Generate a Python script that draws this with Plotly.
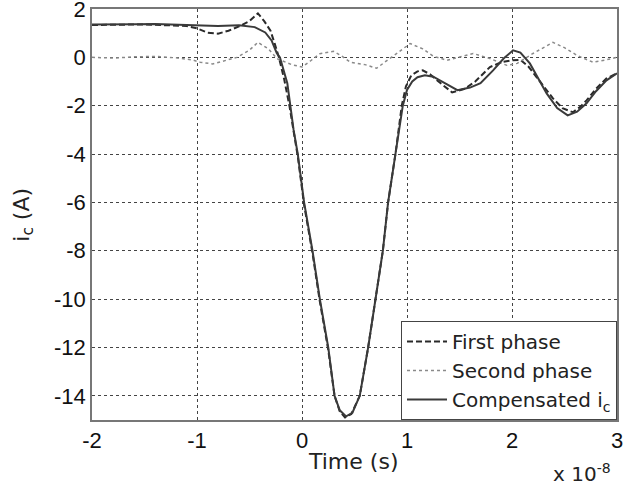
import plotly.graph_objects as go

# time in units of 1e-8 s
t_first = [-2.0, -1.5, -1.1, -1.0, -0.9, -0.8, -0.7, -0.6, -0.5, -0.42, -0.36, -0.3, -0.26, -0.22, -0.17, -0.12,
           -0.04, 0.02, 0.1, 0.17, 0.25, 0.31, 0.36, 0.41, 0.47, 0.55, 0.63, 0.70, 0.77, 0.82, 0.89, 0.95, 0.99,
           1.04, 1.1, 1.15, 1.22, 1.3, 1.43, 1.55, 1.65, 1.79, 1.9, 2.0, 2.08, 2.16, 2.24, 2.32, 2.39, 2.48, 2.58,
           2.65, 2.71, 2.8, 2.9, 3.0]
i_first = [1.34, 1.36, 1.3, 1.2, 1.02, 0.98, 1.1, 1.28, 1.5, 1.82, 1.5, 1.1, 0.57, 0.0, -0.9, -2.0,
           -4.1, -6.1, -8.1, -10.1, -12.1, -14.0, -14.65, -14.9, -14.75, -14.0, -12.0, -10.0, -8.0, -6.0, -4.0, -2.0, -1.2,
           -0.75, -0.58, -0.54, -0.7, -1.0, -1.45, -1.3, -1.0, -0.4, -0.2, -0.12, -0.1, -0.4, -0.83, -1.3, -1.7, -2.1, -2.27,
           -2.05, -1.78, -1.3, -0.87, -0.66]

t_second = [-2.0, -1.8, -1.6, -1.4, -1.2, -1.05, -0.97, -0.85, -0.72, -0.62, -0.5, -0.42, -0.32, -0.24, -0.1, 0.0,
            0.08, 0.17, 0.3, 0.38, 0.46, 0.6, 0.71, 0.85, 1.03, 1.15, 1.25, 1.38, 1.5, 1.63, 1.79, 1.95, 2.05, 2.2,
            2.39, 2.5, 2.62, 2.77, 2.9, 3.0]
i_second = [0.0, -0.03, 0.02, 0.04, -0.02, -0.1, -0.2, -0.27, -0.12, 0.0, 0.3, 0.62, 0.35, -0.05, -0.3, -0.4,
            -0.15, 0.15, 0.25, 0.05, -0.2, -0.3, -0.45, 0.0, 0.57, 0.35, 0.05, -0.12, 0.0, 0.16, -0.05, -0.33, -0.25, 0.16,
            0.62, 0.4, 0.08, -0.2, -0.1, 0.0]

t_comp = [-2.0, -1.8, -1.6, -1.4, -1.2, -1.0, -0.8, -0.6, -0.45, -0.35, -0.29, -0.24, -0.21, -0.14, -0.11, -0.08,
          -0.04, 0.02, 0.1, 0.17, 0.25, 0.31, 0.36, 0.42, 0.48, 0.55, 0.63, 0.70, 0.77, 0.82, 0.89, 0.96, 1.0,
          1.05, 1.1, 1.17, 1.25, 1.35, 1.48, 1.6, 1.7, 1.82, 1.92, 2.01, 2.08, 2.17, 2.25, 2.33, 2.43, 2.53, 2.62,
          2.71, 2.8, 2.9, 3.0]
i_comp = [1.36, 1.38, 1.37, 1.38, 1.36, 1.33, 1.3, 1.33, 1.25, 1.03, 0.7, 0.17, 0.0, -1.07, -2.0, -3.0,
          -4.0, -6.0, -8.0, -10.0, -12.0, -14.0, -14.6, -14.85, -14.7, -14.0, -12.0, -10.0, -8.0, -6.0, -4.0, -2.0, -1.35,
          -1.0, -0.82, -0.74, -0.8, -1.05, -1.36, -1.25, -1.07, -0.54, -0.05, 0.29, 0.2, -0.25, -0.85, -1.49, -2.1, -2.4, -2.25,
          -1.9, -1.4, -0.95, -0.66]

x_ticks = [-2, -1, 0, 1, 2, 3]
y_ticks = [-14, -12, -10, -8, -6, -4, -2, 0, 2]

fig = go.Figure()
fig.add_trace(go.Scatter(x=t_first, y=i_first, mode="lines", name="First phase",
                         line=dict(color="#2a2a2a", width=2, dash="6px,3px")))
fig.add_trace(go.Scatter(x=t_second, y=i_second, mode="lines", name="Second phase",
                         line=dict(color="#8a8a8a", width=1.5, dash="dot")))
fig.add_trace(go.Scatter(x=t_comp, y=i_comp, mode="lines", name="Compensated i<sub>c</sub>",
                         line=dict(color="#3a3a3a", width=2)))

tickfont = dict(family="Liberation Sans, Arial, sans-serif", size=22, color="#111")
titlefont = dict(family="DejaVu Sans, sans-serif", size=22, color="#222")
common = dict(showgrid=True, gridcolor="#444", gridwidth=1, griddash="3px,3px",
              showline=True, linecolor="#777", linewidth=1.5, mirror=True,
              zeroline=False, ticks="", tickfont=tickfont, automargin=False,
              ticklabeloverflow="allow")
fig.update_layout(
    width=623, height=489,
    margin=dict(l=92, r=6, t=9, b=69),
    plot_bgcolor="white", paper_bgcolor="white",
    showlegend=True,
    legend=dict(x=1, y=0, xanchor="right", yanchor="bottom",
                bgcolor="white", bordercolor="#444", borderwidth=1,
                font=dict(family="DejaVu Sans, sans-serif", size=20, color="#222"),
                tracegroupgap=0, itemwidth=40),
    xaxis=dict(range=[-2, 3], tickvals=x_ticks, ticktext=[str(v) for v in x_ticks], **common),
    yaxis=dict(range=[-15, 2], tickvals=y_ticks, ticktext=[str(v) for v in y_ticks], **common),
)
fig.add_annotation(xref="paper", yref="paper", x=0.497, y=-0.102, xanchor="center", yanchor="middle",
                   text="Time (s)", showarrow=False, font=titlefont)
fig.add_annotation(xref="paper", yref="paper", x=-0.131, y=0.5, xanchor="center", yanchor="middle",
                   textangle=-90, text="i<sub>c</sub> (A)", showarrow=False, font=titlefont)
fig.add_annotation(xref="paper", yref="paper", x=0.992, y=-0.128, xanchor="right", yanchor="middle",
                   text="x 10<sup>-8</sup>", showarrow=False,
                   font=dict(family="DejaVu Sans, sans-serif", size=20, color="#222"))

fig.write_html("out.html", config={"displayModeBar": False},
               post_script="document.body.style.margin='0px';")
